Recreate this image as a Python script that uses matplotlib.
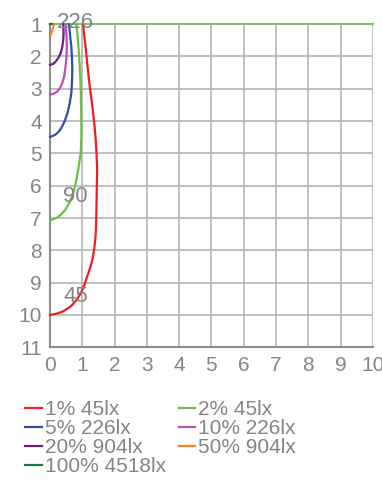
import matplotlib
matplotlib.use("Agg")
import matplotlib.pyplot as plt

plt.rcParams["font.family"] = ["Liberation Sans", "DejaVu Sans"]

# half-width (x) against distance (y) for each light level
red_x = [1.02, 1.03, 1.06, 1.10, 1.16, 1.23, 1.30, 1.36, 1.41, 1.44, 1.46, 1.45, 1.44, 1.43, 1.41,
         1.37, 1.31, 1.24, 1.15, 1.06, 0.95, 0.83, 0.69, 0.55, 0.38, 0.20, 0.0]
red_y = [1.0, 1.07, 1.35, 1.69, 2.3, 2.93, 3.45, 3.96, 4.5, 4.99, 5.51, 6.0, 6.54, 7.05, 7.57,
         7.95, 8.3, 8.55, 8.81, 9.08, 9.33, 9.52, 9.69, 9.8, 9.9, 9.96, 10.0]
green_x = [0.81, 0.82, 0.85, 0.88, 0.92, 0.95, 0.96, 0.97, 0.97, 0.95, 0.92, 0.87, 0.81, 0.74,
           0.67, 0.59, 0.47, 0.33, 0.23, 0.12, 0.0]
green_y = [1.0, 1.02, 1.35, 1.69, 2.3, 2.93, 3.45, 3.96, 4.5, 4.99, 5.2, 5.51, 5.85, 6.15,
           6.35, 6.54, 6.75, 6.9, 6.98, 7.03, 7.07]
blue_x = [0.58, 0.59, 0.62, 0.66, 0.68, 0.69, 0.68, 0.66, 0.61, 0.54, 0.47, 0.38, 0.27, 0.15, 0.0]
blue_y = [1.0, 1.02, 1.35, 1.69, 2.05, 2.41, 2.8, 3.13, 3.45, 3.75, 3.96, 4.16, 4.33, 4.43, 4.49]
magenta_x = [0.47, 0.48, 0.51, 0.52, 0.51, 0.48, 0.44, 0.38, 0.31, 0.23, 0.12, 0.0]
magenta_y = [1.0, 1.02, 1.35, 1.69, 2.0, 2.31, 2.6, 2.82, 2.97, 3.08, 3.15, 3.18]
purple_x = [0.41, 0.41, 0.42, 0.41, 0.38, 0.33, 0.26, 0.18, 0.10, 0.0]
purple_y = [1.0, 1.02, 1.25, 1.48, 1.7, 1.9, 2.04, 2.15, 2.23, 2.26]
orange_x = [0.13, 0.12, 0.08, 0.04, 0.0]
orange_y = [1.0, 1.02, 1.15, 1.28, 1.38]
dkgreen_x = [0.0, 0.06]
dkgreen_y = [1.0, 1.0]

series = [
    ("1% 45lx", red_x, red_y, "#ee1d25"),
    ("5% 226lx", blue_x, blue_y, "#2f4fa2"),
    ("20% 904lx", purple_x, purple_y, "#6b1f83"),
    ("100% 4518lx", dkgreen_x, dkgreen_y, "#19783b"),
    ("2% 45lx", green_x, green_y, "#6cbf45"),
    ("10% 226lx", magenta_x, magenta_y, "#bb4fae"),
    ("50% 904lx", orange_x, orange_y, "#f7851f"),
]

# value labels on the curves
value_labels = ["226", "90", "45"]
value_pos = [(0.79, 0.95), (0.79, 6.33), (0.79, 9.43)]

gray = "#858585"

fig = plt.figure(figsize=(3.82, 4.83), dpi=100)
ax = fig.add_axes([0.131, 0.281, 0.845, 0.669])

ax.set_xlim(0, 10)
ax.set_ylim(11, 1)
ax.set_xticks(range(0, 11))
ax.set_yticks(range(1, 12))
ax.grid(True, color="#b4b4b4", linewidth=1.2)
ax.set_axisbelow(True)
for s in ["top", "right"]:
    ax.spines[s].set_visible(False)
for s in ["left", "bottom"]:
    ax.spines[s].set_color("#8c8c8c")
    ax.spines[s].set_linewidth(1.5)
ax.tick_params(length=0, labelsize=15, colors=gray, pad=6)
ax.axhline(1, color="#7cc56a", linewidth=1.5, clip_on=False, zorder=1)

for label, xs, ys, c in series:
    ax.plot(xs, ys, color=c, linewidth=1.6, label=label, clip_on=False, zorder=3,
            solid_joinstyle="round")

for txt, (x, y) in zip(value_labels, value_pos):
    ax.text(x, y, txt, color=gray, fontsize=16, ha="center", va="center", zorder=5)

fig.legend(loc="upper left", bbox_to_anchor=(0.066, 0.171), ncol=2, frameon=False,
           fontsize=15, labelcolor=gray, handlelength=0.8, handletextpad=0.15,
           columnspacing=0.6, labelspacing=0.0, borderpad=0, borderaxespad=0)

fig.savefig("out.png", dpi=100)
